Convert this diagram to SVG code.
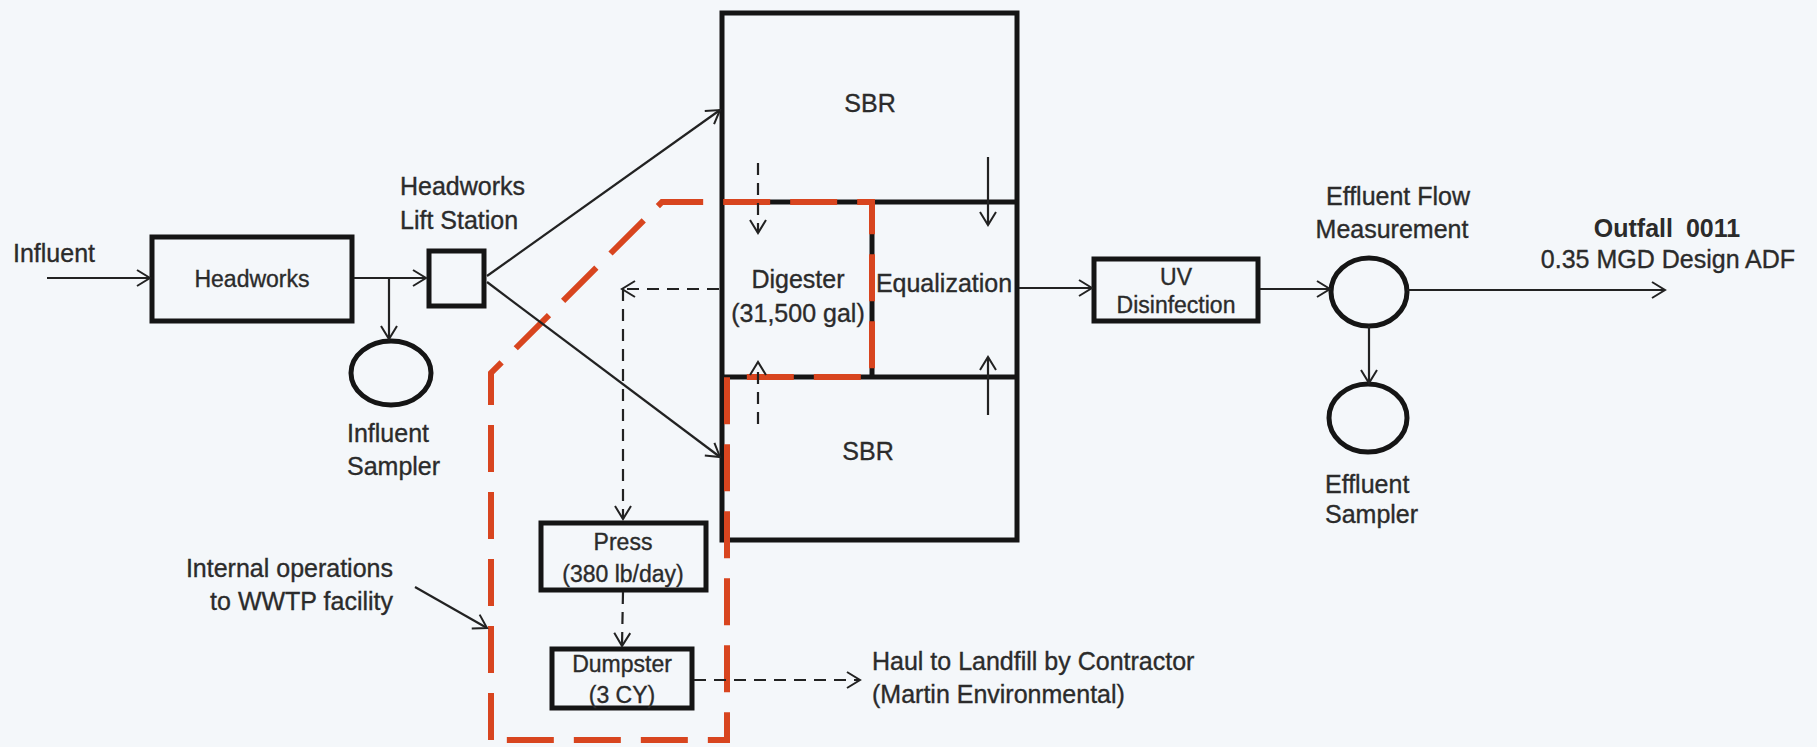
<svg xmlns="http://www.w3.org/2000/svg" width="1817" height="747" viewBox="0 0 1817 747">
<defs>
<marker id="arr" markerUnits="userSpaceOnUse" markerWidth="20" markerHeight="20" refX="15" refY="10" orient="auto">
<path d="M2,2 L15,10 L2,18" fill="none" stroke="#222" stroke-width="2"/>
</marker>
</defs>
<style>
text{font-family:"Liberation Sans",Arial,sans-serif;fill:#2b2b2b;font-size:25px;stroke:#2b2b2b;stroke-width:0.35}
.c{text-anchor:middle}
.s{font-size:23px}
.b{font-weight:bold;stroke-width:0}
.box{fill:none;stroke:#151515;stroke-width:5}
.thin{fill:none;stroke:#222;stroke-width:2.2}
.dash{fill:none;stroke:#222;stroke-width:2.2;stroke-dasharray:12 8}
.red{fill:none;stroke:#d8451f;stroke-width:6;stroke-dasharray:47 20}
</style>
<rect x="0" y="0" width="1817" height="747" fill="#f4f7fa"/>

<g id="influent-label"><text x="13" y="262">Influent</text></g>

<g id="headworks">
<rect class="box" x="152" y="237" width="200" height="84"/>
<text class="c s" x="252" y="287">Headworks</text>
</g>

<g id="influent-sampler">
<ellipse class="box" cx="391" cy="373" rx="40" ry="32"/>
<text x="347" y="442">Influent</text>
<text x="347" y="475">Sampler</text>
</g>

<g id="lift-station">
<rect class="box" x="429" y="251" width="55" height="55"/>
<text x="400" y="195">Headworks</text>
<text x="400" y="229">Lift Station</text>
</g>

<g id="sbr-block">
<rect class="box" x="722" y="13" width="295" height="527" stroke-width="6"/>
<line class="box" x1="722" y1="202" x2="1017" y2="202" stroke-width="6"/>
<line class="box" x1="722" y1="377" x2="1017" y2="377" stroke-width="6"/>
<line class="box" x1="872" y1="202" x2="872" y2="377"/>
</g>
<g id="sbr-top"><text class="c" x="870" y="112">SBR</text></g>
<g id="digester">
<text class="c" x="798" y="288">Digester</text>
<text class="c" x="798" y="322">(31,500 gal)</text>
</g>
<g id="equalization"><text class="c" x="944" y="292">Equalization</text></g>
<g id="sbr-bottom"><text class="c" x="868" y="460">SBR</text></g>

<g id="press">
<rect class="box" x="541" y="523" width="165" height="67"/>
<text class="c s" x="623" y="550">Press</text>
<text class="c s" x="623" y="582">(380 lb/day)</text>
</g>

<g id="dumpster">
<rect class="box" x="552" y="649" width="140" height="59"/>
<text class="c s" x="622" y="672">Dumpster</text>
<text class="c s" x="622" y="703">(3 CY)</text>
</g>

<g id="haul"><text x="872" y="670">Haul to Landfill by Contractor</text><text x="872" y="703">(Martin Environmental)</text></g>

<g id="internal-ops">
<text x="393" y="577" text-anchor="end">Internal operations</text>
<text x="393" y="610" text-anchor="end">to WWTP facility</text>
</g>

<g id="uv">
<rect class="box" x="1094" y="259" width="164" height="62"/>
<text class="c s" x="1176" y="285">UV</text>
<text class="c s" x="1176" y="313">Disinfection</text>
</g>

<g id="flow-measurement">
<ellipse class="box" cx="1369" cy="292" rx="38" ry="34"/>
<text class="c" x="1398" y="205">Effluent Flow</text>
<text class="c" x="1392" y="238">Measurement</text>
</g>

<g id="effluent-sampler">
<ellipse class="box" cx="1368" cy="418" rx="39" ry="34"/>
<text x="1325" y="493">Effluent</text>
<text x="1325" y="523">Sampler</text>
</g>

<g id="outfall">
<text class="c b" x="1667" y="237" style="word-spacing:6px">Outfall 0011</text>
<text class="c" x="1668" y="268">0.35 MGD Design ADF</text>
</g>

<g id="boundary"><path class="red" d="M491,740 L491,373 L662,202 L872,202 L872,377 L727,377 L727,740 Z"/></g>

<g id="connectors">
<line class="thin" x1="47" y1="278" x2="150" y2="278" marker-end="url(#arr)"/>
<line class="thin" x1="354" y1="278" x2="426" y2="278" marker-end="url(#arr)"/>
<line class="thin" x1="389" y1="278" x2="389" y2="339" marker-end="url(#arr)"/>
<line class="thin" x1="487" y1="276" x2="720" y2="110" marker-end="url(#arr)"/>
<line class="thin" x1="487" y1="282" x2="720" y2="457" marker-end="url(#arr)"/>
<line class="dash" x1="758" y1="163" x2="758" y2="233" marker-end="url(#arr)"/>
<line class="dash" x1="758" y1="424" x2="758" y2="362" marker-end="url(#arr)"/>
<line class="thin" x1="988" y1="157" x2="988" y2="225" marker-end="url(#arr)"/>
<line class="thin" x1="988" y1="415" x2="988" y2="357" marker-end="url(#arr)"/>
<line class="dash" x1="719" y1="289" x2="622" y2="289" marker-end="url(#arr)"/>
<line class="dash" x1="623" y1="289" x2="623" y2="519" marker-end="url(#arr)"/>
<line class="dash" x1="623" y1="592" x2="622" y2="646" marker-end="url(#arr)"/>
<line class="dash" x1="694" y1="680" x2="860" y2="680" marker-end="url(#arr)"/>
<line class="thin" x1="415" y1="587" x2="487" y2="628" marker-end="url(#arr)"/>
<line class="thin" x1="1019" y1="288" x2="1092" y2="288" marker-end="url(#arr)"/>
<line class="thin" x1="1260" y1="289" x2="1330" y2="289" marker-end="url(#arr)"/>
<line class="thin" x1="1407" y1="290" x2="1665" y2="290" marker-end="url(#arr)"/>
<line class="thin" x1="1369" y1="326" x2="1369" y2="383" marker-end="url(#arr)"/>
</g>
</svg>
